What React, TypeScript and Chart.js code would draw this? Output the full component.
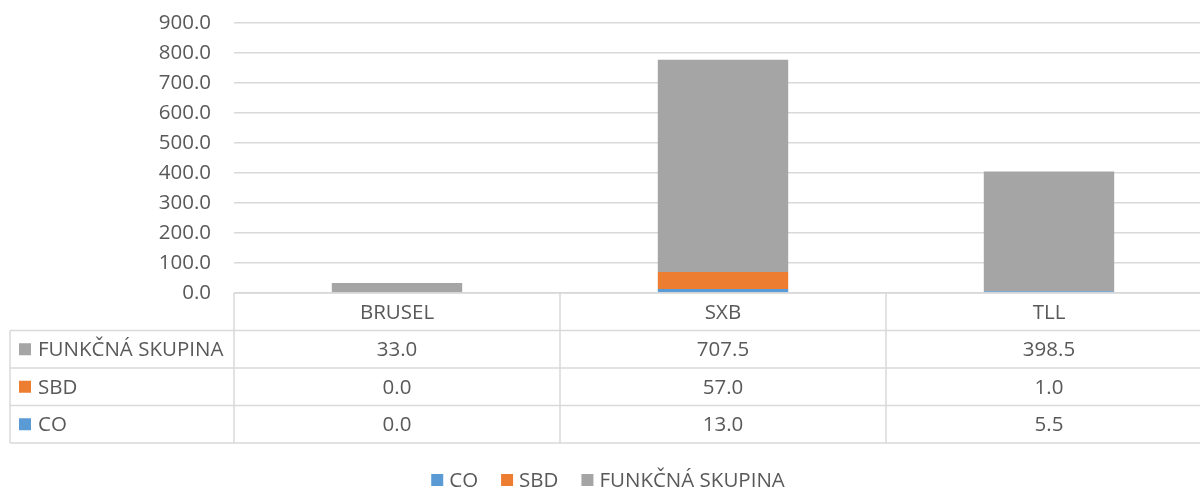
import React, { useEffect, useRef } from "react";
import { Chart, registerables } from "chart.js";

Chart.register(...registerables);

const categories = ["BRUSEL", "SXB", "TLL"];
const coValues = [0.0, 13.0, 5.5];
const sbdValues = [0.0, 57.0, 1.0];
const funkcnaValues = [33.0, 707.5, 398.5];
const seriesNames = ["CO", "SBD", "FUNKČNÁ SKUPINA"];
const seriesColors = ["#5B9BD5", "#ED7D31", "#A5A5A5"];
const yMax = 900;
const yStep = 100;

const FONT_FAMILY = '"Open Sans", sans-serif';
const FONT_SIZE = 20.5;
const TEXT_COLOR = "#595959";
const LINE_COLOR = "#d9d9d9";

const tablePlugin = {
  id: "dataTable",
  afterDraw(chart: any) {
    const ctx = chart.ctx as CanvasRenderingContext2D;
    const ca = chart.chartArea;
    const xs = chart.scales.x;
    const n = categories.length;
    const colW = (ca.right - ca.left) / n;
    const rowH = 37.5;
    const top = ca.bottom;
    const x0 = 10;
    const series = [
      { name: seriesNames[2], color: seriesColors[2], values: funkcnaValues },
      { name: seriesNames[1], color: seriesColors[1], values: sbdValues },
      { name: seriesNames[0], color: seriesColors[0], values: coValues },
    ];
    ctx.save();
    ctx.strokeStyle = LINE_COLOR;
    ctx.lineWidth = 1.5;
    ctx.beginPath();
    ctx.moveTo(ca.left, top);
    ctx.lineTo(ca.right, top);
    for (let k = 1; k <= 4; k++) {
      ctx.moveTo(x0, top + rowH * k);
      ctx.lineTo(ca.right, top + rowH * k);
    }
    ctx.moveTo(x0, top + rowH);
    ctx.lineTo(x0, top + rowH * 4);
    for (let i = 0; i <= n; i++) {
      const x = ca.left + colW * i;
      ctx.moveTo(x, top);
      ctx.lineTo(x, top + rowH * 4);
    }
    ctx.stroke();

    ctx.font = `${FONT_SIZE}px ${FONT_FAMILY}`;
    ctx.fillStyle = TEXT_COLOR;
    ctx.textBaseline = "middle";
    ctx.textAlign = "center";
    categories.forEach((c, i) => {
      ctx.fillText(c, xs.getPixelForValue(i), top + rowH / 2 + 1);
    });
    series.forEach((s, r) => {
      const cy = top + rowH * (r + 1) + rowH / 2 + 1;
      ctx.fillStyle = s.color;
      ctx.fillRect(x0 + 9, cy - 7, 12, 12);
      ctx.fillStyle = TEXT_COLOR;
      ctx.textAlign = "left";
      ctx.fillText(s.name, x0 + 28, cy);
      ctx.textAlign = "center";
      s.values.forEach((v, i) => {
        ctx.fillText(v.toFixed(1), xs.getPixelForValue(i), cy);
      });
    });

    // legend
    const ly = 481;
    const box = 12;
    const gapBoxText = 6;
    const gapItems = 23;
    const widths = seriesNames.map((s) => ctx.measureText(s).width);
    const total =
      widths.reduce((a, b) => a + b, 0) +
      seriesNames.length * (box + gapBoxText) +
      (seriesNames.length - 1) * gapItems;
    let x = 608 - total / 2;
    ctx.textAlign = "left";
    seriesNames.forEach((s, i) => {
      ctx.fillStyle = seriesColors[i];
      ctx.fillRect(x, ly - 7, box, box);
      x += box + gapBoxText;
      ctx.fillStyle = TEXT_COLOR;
      ctx.fillText(s, x, ly);
      x += widths[i] + gapItems;
    });
    ctx.restore();
  },
};

export default function App() {
  const ref = useRef<HTMLCanvasElement | null>(null);
  useEffect(() => {
    if (!ref.current) return;
    const chart = new Chart(ref.current, {
      type: "bar",
      data: {
        labels: categories,
        datasets: [
          { label: seriesNames[0], data: coValues, backgroundColor: seriesColors[0] },
          { label: seriesNames[1], data: sbdValues, backgroundColor: seriesColors[1] },
          { label: seriesNames[2], data: funkcnaValues, backgroundColor: seriesColors[2] },
        ],
      },
      options: {
        animation: false,
        responsive: false,
        devicePixelRatio: 1,
        datasets: { bar: { barPercentage: 0.4, categoryPercentage: 1.0 } },
        layout: { padding: { top: 23, bottom: 196, left: 0, right: 8 } },
        plugins: { legend: { display: false }, tooltip: { enabled: false } },
        scales: {
          x: { stacked: true, display: false },
          y: {
            stacked: true,
            min: 0,
            max: yMax,
            afterFit: (scale: any) => {
              scale.width = 234;
              scale.paddingTop = 0;
              scale.paddingBottom = 0;
            },
            ticks: {
              stepSize: yStep,
              padding: 23,
              color: TEXT_COLOR,
              font: { family: FONT_FAMILY, size: FONT_SIZE },
              callback: (v: any) => Number(v).toFixed(1),
            },
            grid: { color: LINE_COLOR, lineWidth: 1.5, drawTicks: false },
            border: { display: false },
          },
        },
      },
      plugins: [tablePlugin],
    });
    return () => chart.destroy();
  }, []);
  return (
    <div style={{ position: "fixed", left: 0, top: 0, width: 1200, height: 489, overflow: "hidden", background: "#fff" }}>
      <canvas ref={ref} width={1220} height={489} style={{ display: "block" }} />
    </div>
  );
}
